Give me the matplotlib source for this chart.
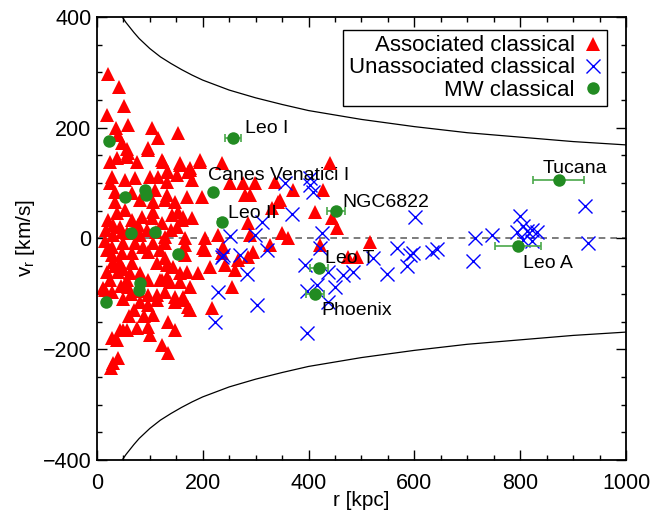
import numpy as np
import matplotlib
matplotlib.use('Agg')
import matplotlib.pyplot as plt

plt.rcParams['font.family'] = ['Liberation Sans', 'DejaVu Sans']
plt.rcParams['mathtext.fontset'] = 'custom'
plt.rcParams['mathtext.rm'] = 'Liberation Sans'
plt.rcParams['mathtext.it'] = 'Liberation Sans:italic'

# escape velocity envelope (r in kpc, v in km/s)
curve_r = [40, 45, 50, 55, 60, 70, 80, 90, 100, 120, 140, 160, 180, 200,
           250, 300, 350, 400, 500, 600, 700, 800, 900, 1000]
curve_v = [413, 404, 397, 390, 384, 372, 361, 352, 343, 328, 316, 305, 295, 286,
           268, 254, 242, 231, 215, 202, 191, 183, 175, 169]

# associated classical (red triangles)
assoc_r = [21, 42, 51, 19, 36, 59, 104, 153, 115, 47, 97, 57, 40, 123, 132, 157, 176, 195, 236,
           25, 38, 57, 59, 76, 96, 125, 157, 176, 195,
           28, 25, 53, 72, 100, 115, 134, 132, 172, 180, 151,
           34, 66, 110, 132, 147, 170, 198, 34, 81, 106, 129,
           21, 38, 53, 66, 85, 104, 106, 142, 153, 163, 161, 180, 151, 123, 78, 43,
           30, 57, 81, 129, 166, 204, 17, 30, 47, 70, 95, 112, 140,
           28, 49, 72, 87, 106, 129, 166, 204, 28, 47, 66, 96, 119, 129, 166,
           30, 43, 66, 40, 62, 81, 113, 132, 144, 170, 191, 157, 132, 119,
           57, 59, 96, 123, 138, 157, 176, 15, 28, 96, 113, 147, 163, 129,
           81, 96, 113, 106, 147, 161, 172, 176, 217,
           43, 57, 76, 96, 100, 134, 147, 38, 123, 134, 40, 30, 26,
           15, 20, 35, 50, 20, 25, 45, 65, 80, 50, 70, 90, 60, 11, 28, 49,
           251, 276, 299, 336, 371, 427, 440, 342, 412, 444, 454, 285, 350,
           289, 346, 331, 516, 474, 491, 255, 200, 214, 242, 261, 295, 327,
           361, 229, 289, 238, 267, 285, 236, 422, 280]
assoc_v = [297, 273, 239, 223, 199, 205, 199, 190, 181, 172, 163, 162, 187, 142, 120, 133, 124, 142, 136,
           138, 145, 147, 154, 138, 160, 138, 136, 127, 138,
           111, 100, 106, 109, 111, 111, 120, 102, 120, 106, 115,
           84, 82, 88, 79, 66, 75, 75, 66, 69, 66, 69,
           33, 46, 51, 33, 39, 37, 48, 42, 48, 39, 33, 37, 21, 28, 24, 21,
           6, 10, 6, 3, 1, 1, 15, 25, 12, 18, 15, 12, 15,
           -15, -8, -8, -15, -8, -8, -12, -21, -30, -26, -26, -24, -21, -35, -30,
           -42, -44, -44, -60, -62, -62, -44, -48, -51, -60, -62, -62, -69, -75,
           -75, -87, -75, -75, -78, -78, -87, -93, -96, -102, -102, -105, -105, -96,
           -115, -120, -111, -138, -115, -111, -123, -129, -126,
           -165, -165, -162, -160, -174, -151, -165, -183, -192, -207, -216, -225, -234,
           -5, -20, -50, -55, -60, -75, -85, -100, -95, -110, -130, -140, -140, -90, -180, -165,
           100, 100, 100, 102, 88, 88, 136, 66, 48, 37, 19, 28, 10,
           78, 69, 55, -6, -33, -33, -87, -17, -51, -48, -57, -24, -12,
           1, 6, 6, -15, -39, -33, -26, -12, 78]

# unassociated classical (blue crosses)
unassoc_r = [355, 403, 408, 403, 369, 312, 299, 251, 425, 422, 238, 270, 321, 284, 393, 437,
             465, 484, 548, 229, 303, 397, 416, 450, 223, 397, 437, 567, 601, 715, 747,
             592, 598, 586, 633, 643, 711, 522, 800, 805, 794, 813, 822, 832, 805, 822,
             922, 928, 236]
unassoc_v = [100, 109, 84, 97, 44, 30, 6, 5, 10, -17, -30, -30, -21, -65, -48, -60,
             -66, -60, -64, -97, -120, -95, -84, -88, -150, -170, -115, -17, 39, 0, 6,
             -30, -26, -50, -24, -19, -40, -35, 40, 22, 12, 13, 16, 11, -2, -5,
             58, -8, -33]

# MW classical (green circles)
mw_r = [23, 53, 91, 93, 64, 110, 153, 81, 79, 17,
        258, 219, 236, 451, 420, 412, 873, 796]
mw_v = [176, 75, 87, 78, 10, 12, -28, -80, -93, -115,
        181, 84, 30, 50, -53, -100, 106, -14]
mw_rerr = [0, 0, 0, 0, 0, 0, 0, 0, 0, 0,
           15, 0, 8, 17, 17, 17, 48, 44]

# labels: name, r, v (baseline)
label_names = ['Leo I', 'Canes Venatici I', 'Leo II', 'NGC6822', 'Leo T', 'Phoenix', 'Tucana', 'Leo A']
label_r = [280, 210, 248, 463, 431, 425, 843, 805]
label_v = [190, 106, 37, 57, -44, -138, 118, -53]

fig = plt.figure(figsize=(6.59, 5.14), dpi=100)
ax = fig.add_axes([0.147, 0.105, 0.803, 0.862])

curve_r = np.array(curve_r)
curve_v = np.array(curve_v)
ax.plot(curve_r, curve_v, color='black', lw=0.9, zorder=1)
ax.plot(curve_r, -curve_v, color='black', lw=0.9, zorder=1)
ax.axhline(0, color='#666666', lw=1.2, ls=(0, (4, 3)), zorder=1)

ax.plot(assoc_r, assoc_v, ls='none', marker='^', color='#ff0000', ms=9.5,
        mew=0, zorder=2, label='Associated classical')
ax.plot(unassoc_r, unassoc_v, ls='none', marker='x', color='#0000ff', ms=10,
        mew=1.0, zorder=3, label='Unassociated classical')
ax.errorbar(mw_r, mw_v, xerr=mw_rerr, fmt='none', ecolor='#4aa84a', elinewidth=1.2,
            capsize=3, capthick=1.2, zorder=4)
ax.plot(mw_r, mw_v, ls='none', marker='o', color='#228b22', ms=9, mew=0,
        zorder=5, label='MW classical')

for name, x, y in zip(label_names, label_r, label_v):
    ax.text(x, y, name, fontsize=14, ha='left', va='baseline', zorder=6)

ax.set_xlim(0, 1000)
ax.set_ylim(-400, 400)
ax.set_xticks(np.arange(0, 1001, 200))
ax.set_xticks(np.arange(0, 1001, 50), minor=True)
ax.set_yticks(np.arange(-400, 401, 200))
ax.set_yticks(np.arange(-400, 401, 50), minor=True)
ax.tick_params(which='both', direction='in', top=True, right=True, width=1.0, labelsize=15.5)
ax.tick_params(which='major', length=7)
ax.tick_params(which='minor', length=3.5)
ax.tick_params(axis='x', which='major', pad=9)
ax.tick_params(axis='y', which='major', pad=4)
for s in ax.spines.values():
    s.set_linewidth(1.3)

ax.set_xlabel('r [kpc]', fontsize=15, labelpad=-2)
ax.set_ylabel(r'v$_{\rm r}$ [km/s]', fontsize=15, labelpad=4)

leg = ax.legend(loc='upper right', bbox_to_anchor=(0.964, 0.971), borderaxespad=0,
                markerfirst=False, fontsize=16, fancybox=False, edgecolor='black',
                framealpha=1, labelspacing=0.05, handlelength=0.8, handletextpad=0.4,
                borderpad=0.25, numpoints=1)
leg.get_frame().set_linewidth(1.0)
for t in leg.get_texts():
    t.set_ha('right')

fig.savefig('out.png', dpi=100)
